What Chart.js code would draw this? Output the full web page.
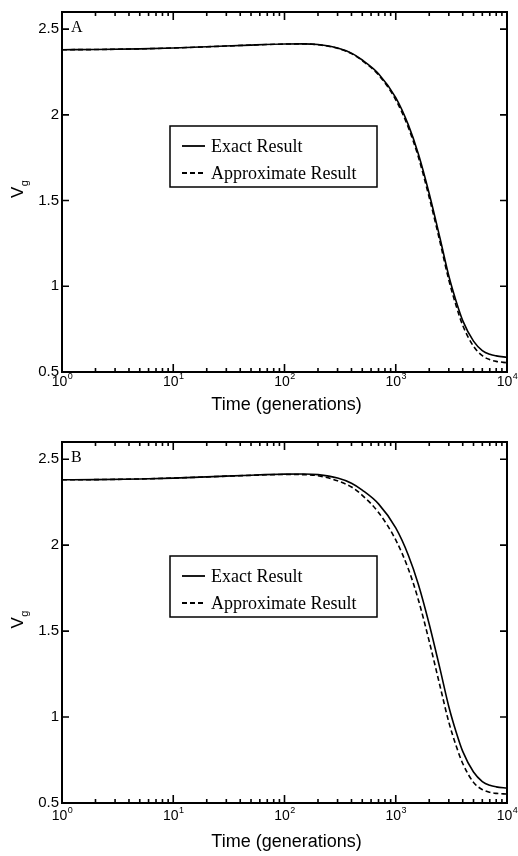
<!DOCTYPE html>
<html><head><meta charset="utf-8">
<script src="https://cdn.jsdelivr.net/npm/chart.js@4.4.1/dist/chart.umd.min.js"></script>
<style>
html,body{margin:0;padding:0;background:#fff;}
#wrap{position:relative;width:518px;height:856px;background:#fff;}
canvas{display:block;}
</style></head><body>
<div id="wrap">
<canvas id="cA" width="518" height="428"></canvas>
<canvas id="cB" width="518" height="428"></canvas>
</div>
<script>
// ---- data ----
const timeGen = [1,2,5,10,20,50,100,150,200,300,400,500,700,1000,1300,1600,2000,2500,3000,3500,4000,5000,6000,7000,8000,10000];
const exactA  = [2.380,2.381,2.385,2.390,2.397,2.407,2.413,2.414,2.410,2.390,2.360,2.320,2.240,2.100,1.940,1.770,1.540,1.280,1.060,0.910,0.800,0.680,0.625,0.603,0.594,0.586];
const approxA = [2.380,2.381,2.385,2.390,2.397,2.407,2.413,2.414,2.409,2.388,2.357,2.316,2.233,2.088,1.925,1.752,1.518,1.258,1.036,0.884,0.772,0.650,0.595,0.572,0.562,0.554];
const exactB  = [2.380,2.381,2.385,2.390,2.397,2.407,2.413,2.414,2.410,2.390,2.360,2.320,2.240,2.100,1.940,1.770,1.540,1.280,1.060,0.910,0.800,0.680,0.625,0.603,0.594,0.587];
const approxB = [2.380,2.381,2.385,2.390,2.397,2.406,2.411,2.410,2.404,2.374,2.338,2.290,2.190,2.030,1.860,1.680,1.440,1.180,0.970,0.830,0.730,0.620,0.578,0.562,0.556,0.552];
const yTicks = [0.5,1,1.5,2,2.5];
const xDecades = [1,10,100,1000,10000];
const xExponents = ['0','1','2','3','4'];
const seriesNames = ['Exact Result','Approximate Result'];
const panelLabels = ['A','B'];
const xTitle = 'Time (generations)';
const yTitleMain = 'V';
const yTitleSub = 'g';

const SANS = '"Liberation Sans", Arial, Helvetica, sans-serif';
const SERIF = '"Liberation Serif", "Times New Roman", serif';

function pts(ys){ return timeGen.map((t,i)=>({x:t,y:ys[i]})); }

const framePlugin = {
  id:'frame',
  afterDraw(chart, args, opts){
    const ctx = chart.ctx, a = chart.chartArea, xs = chart.scales.x, ys = chart.scales.y;
    ctx.save();
    ctx.strokeStyle = '#000'; ctx.fillStyle = '#000';
    ctx.lineWidth = 2;
    ctx.strokeRect(a.left, a.top, a.right-a.left, a.bottom-a.top);
    ctx.lineWidth = 1.6;
    ctx.beginPath();
    yTicks.forEach(v=>{
      const py = ys.getPixelForValue(v);
      ctx.moveTo(a.left, py); ctx.lineTo(a.left+7, py);
      ctx.moveTo(a.right, py); ctx.lineTo(a.right-7, py);
    });
    for(let d=0; d<xDecades.length; d++){
      const base = xDecades[d];
      const kmax = d===xDecades.length-1 ? 1 : 9;
      for(let k=1;k<=kmax;k++){
        const px = xs.getPixelForValue(base*k);
        const len = k===1 ? 8 : 4;
        ctx.moveTo(px, a.bottom); ctx.lineTo(px, a.bottom-len);
        ctx.moveTo(px, a.top); ctx.lineTo(px, a.top+len);
      }
    }
    ctx.stroke();
    // x tick labels 10^n
    ctx.textBaseline = 'alphabetic';
    xDecades.forEach((v,i)=>{
      const px = xs.getPixelForValue(v);
      ctx.font = '14px '+SANS;
      const w10 = ctx.measureText('10').width;
      ctx.font = '9px '+SANS;
      const we = ctx.measureText(xExponents[i]).width;
      const x0 = px - (w10+we)/2;
      ctx.font = '14px '+SANS; ctx.textAlign='left';
      ctx.fillText('10', x0, a.bottom + opts.labelOff);
      ctx.font = '9px '+SANS;
      ctx.fillText(xExponents[i], x0 + w10 + 0.5, a.bottom + opts.labelOff - 7);
    });
    // x title
    ctx.font = '18px '+SANS; ctx.textAlign='center'; ctx.textBaseline='middle';
    ctx.fillText(xTitle, (a.left+a.right)/2 + 2, a.bottom + opts.titleOff);
    // y title V_g
    ctx.save();
    ctx.translate(23, (a.top+a.bottom)/2 + 6);
    ctx.rotate(-Math.PI/2);
    ctx.textAlign='left'; ctx.textBaseline='alphabetic';
    ctx.font = '17px '+SANS;
    const wv = ctx.measureText(yTitleMain).width;
    ctx.fillText(yTitleMain, 0, 0);
    ctx.font = '11px '+SANS;
    ctx.fillText(yTitleSub, wv + 0.5, 5);
    ctx.restore();
    // panel label
    ctx.font = '16px '+SERIF; ctx.textAlign='left'; ctx.textBaseline='alphabetic';
    ctx.fillText(opts.panel, a.left + 9, a.top + 20);
    // legend
    const bx = a.left + 108, by = a.top + 114, bw = 207, bh = 61;
    ctx.fillStyle = '#fff'; ctx.fillRect(bx, by, bw, bh);
    ctx.fillStyle = '#000';
    ctx.lineWidth = 1.5; ctx.strokeRect(bx, by, bw, bh);
    ctx.font = '18px '+SERIF; ctx.textBaseline='middle';
    chart.data.datasets.forEach((ds,i)=>{
      const yy = by + 20 + i*27;
      ctx.beginPath();
      ctx.lineWidth = 1.8;
      ctx.setLineDash(ds.borderDash || []);
      ctx.moveTo(bx+12, yy); ctx.lineTo(bx+35, yy);
      ctx.stroke();
      ctx.setLineDash([]);
      ctx.fillText(ds.label, bx+41, yy+1);
    });
    ctx.restore();
  }
};

function makeChart(id, exact, approx, panel, padTop, xH, labelOff, titleOff){
  return new Chart(document.getElementById(id), {
    type:'line',
    data:{ datasets:[
      {label:seriesNames[0], data:pts(exact), borderColor:'#000', borderWidth:1.6, pointRadius:0, cubicInterpolationMode:'monotone', fill:false},
      {label:seriesNames[1], data:pts(approx), borderColor:'#000', borderWidth:1.6, borderDash:[5,3], pointRadius:0, cubicInterpolationMode:'monotone', fill:false}
    ]},
    options:{
      responsive:false, animation:false, devicePixelRatio:1,
      layout:{padding:{top:padTop, right:11, left:0, bottom:0}},
      plugins:{ legend:{display:false}, tooltip:{enabled:false}, frame:{panel, labelOff, titleOff} },
      scales:{
        x:{ type:'logarithmic', min:1, max:10000,
            grid:{display:false, drawTicks:false}, border:{display:false},
            ticks:{display:false},
            afterFit:(s)=>{ s.height = xH; } },
        y:{ type:'linear', min:0.5, max:2.6,
            grid:{display:false, drawTicks:false}, border:{display:false},
            ticks:{ color:'#000', font:{size:15, family:SANS}, padding:3,
                    callback:(v)=> String(v) },
            afterBuildTicks:(s)=>{ s.ticks = yTicks.map(v=>({value:v})); },
            afterFit:(s)=>{ s.width = 62; } }
      }
    },
    plugins:[framePlugin]
  });
}
makeChart('cA', exactA, approxA, panelLabels[0], 11, 56, 14, 33);
makeChart('cB', exactB, approxB, panelLabels[1], 14, 53, 17, 39);
</script>
</body></html>
